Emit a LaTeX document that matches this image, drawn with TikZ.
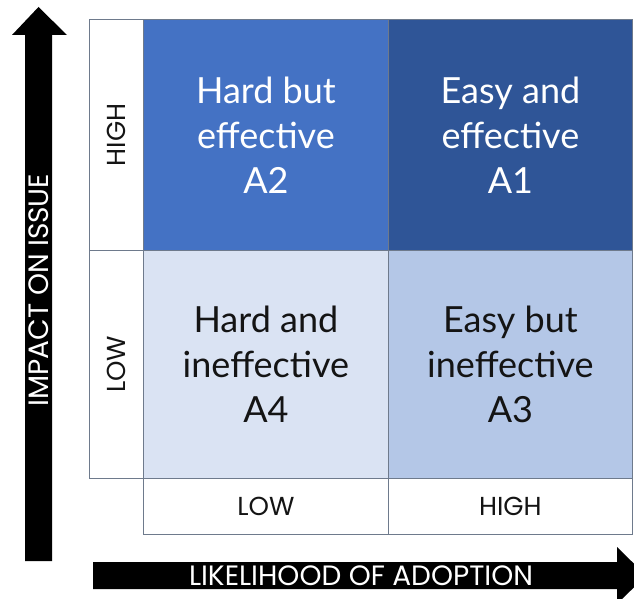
\documentclass[tikz,border=0pt]{standalone}
\usepackage{fontspec}
\setmainfont{Lato}
\newfontfamily\labfont{Poppins}
\definecolor{cA}{HTML}{2F5597}
\definecolor{cB}{HTML}{4472C4}
\definecolor{cC}{HTML}{B4C7E7}
\definecolor{cD}{HTML}{DAE3F3}
\definecolor{gridline}{RGB}{110,122,140}
\definecolor{darktext}{RGB}{20,20,20}
\tikzset{
  cell/.style={draw=gridline, line width=0.8pt, inner sep=0pt, anchor=north west, align=center},
  quad/.style={cell, font=\fontsize{36}{45}\selectfont},
  axlab/.style={cell, font=\labfont\fontsize{26}{28}\selectfont, text=darktext},
  sidelab/.style={font=\labfont\fontsize{26}{28}\selectfont, text=darktext, rotate=90, inner sep=0pt},
  arrowlab/.style={font=\labfont\fontsize{28}{30}\selectfont, text=white, inner sep=0pt},
}
\begin{document}
\begin{tikzpicture}[x=1pt,y=-1pt]
\useasboundingbox (0,0) rectangle (634,599);
\fill[white] (0,0) rectangle (634,599);
\begin{scope}
\clip (0,0) rectangle (634,599);
% arrows
\fill[black] (25,561) -- (25,35) -- (12,35) -- (38.5,7) -- (67,35) -- (52,35) -- (52,561) -- cycle;
\fill[black] (93,562) -- (617,562) -- (617,547) -- (646,575.5) -- (617,604) -- (617,589) -- (93,589) -- cycle;
\end{scope}
\node[arrowlab, rotate=90] (yl) at (38.5,290) {IMPACT ON ISSUE};
\node[arrowlab] (xl) at (361,575.5) {LIKELIHOOD OF ADOPTION};
% left column
\node[cell, minimum width=54pt, minimum height=231pt] (lh) at (89,19) {};
\node[cell, minimum width=54pt, minimum height=228pt] (ll) at (89,250) {};
\node[sidelab] (lht) at (lh.center) {HIGH};
\node[sidelab] (llt) at (ll.center) {LOW};
% quadrants
\node[quad, fill=cB, text=white, minimum width=245pt, minimum height=231pt] (a2) at (143,19) {Hard but\\effective\\A2};
\node[quad, fill=cA, text=white, minimum width=244pt, minimum height=231pt] (a1) at (388,19) {Easy and\\effective\\A1};
\node[quad, fill=cD, text=darktext, minimum width=245pt, minimum height=228pt] (a4) at (143,250) {Hard and\\ineffective\\A4};
\node[quad, fill=cC, text=darktext, minimum width=244pt, minimum height=228pt] (a3) at (388,250) {Easy but\\ineffective\\A3};
% bottom row
\node[axlab, minimum width=245pt, minimum height=56pt] (bl) at (143,478) {LOW};
\node[axlab, minimum width=244pt, minimum height=56pt] (bh) at (388,478) {HIGH};
\end{tikzpicture}
\end{document}
